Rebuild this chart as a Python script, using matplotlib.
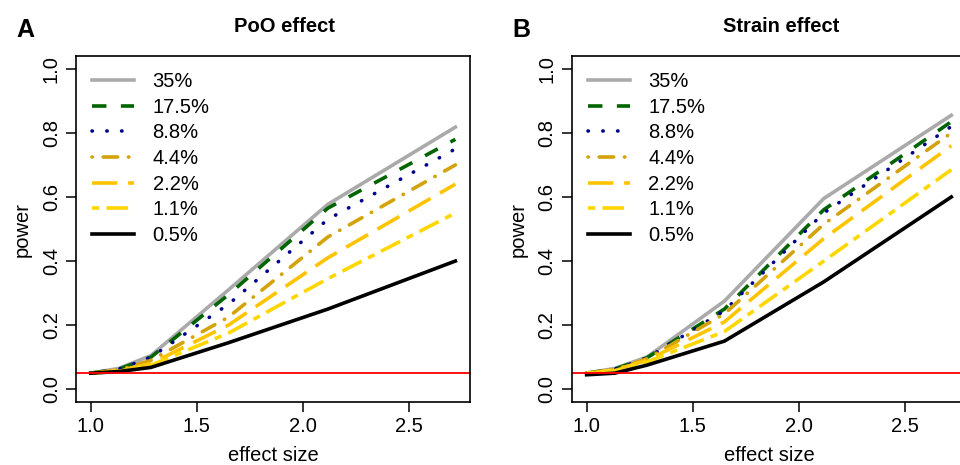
import numpy as np
import matplotlib
matplotlib.use("Agg")
import matplotlib.pyplot as plt

plt.rcParams["font.family"] = ["Liberation Sans", "DejaVu Sans"]

# effect sizes (exp of 0, 1/8, 1/4, 1/2, 3/4, 1)
effect = [1.0, 1.133, 1.284, 1.649, 2.117, 2.718]
labels = ["35%", "17.5%", "8.8%", "4.4%", "2.2%", "1.1%", "0.5%"]

poo_power = [
    [0.050, 0.065, 0.105, 0.310, 0.577, 0.818],
    [0.050, 0.063, 0.100, 0.295, 0.565, 0.780],
    [0.050, 0.062, 0.100, 0.265, 0.530, 0.750],
    [0.050, 0.060, 0.090, 0.225, 0.475, 0.700],
    [0.050, 0.058, 0.080, 0.200, 0.410, 0.640],
    [0.050, 0.056, 0.075, 0.175, 0.345, 0.550],
    [0.050, 0.055, 0.068, 0.145, 0.250, 0.400],
]
strain_power = [
    [0.050, 0.065, 0.100, 0.275, 0.595, 0.855],
    [0.050, 0.063, 0.098, 0.250, 0.560, 0.835],
    [0.050, 0.062, 0.097, 0.245, 0.550, 0.820],
    [0.050, 0.061, 0.095, 0.235, 0.515, 0.800],
    [0.050, 0.060, 0.090, 0.210, 0.470, 0.760],
    [0.050, 0.058, 0.085, 0.180, 0.400, 0.685],
    [0.045, 0.050, 0.075, 0.150, 0.335, 0.600],
]
alpha = 0.05

colors = ["#AAAAAA", "#006400", "#00008B", "#D4A20A", "#FFC400", "#FFD700", "#000000"]
dotted = (0, (0.1, 4))
styles = ["-", (0, (4, 4)), dotted, (0, (0.1, 3, 4, 3)), (0, (7, 3)),
          (0, (2, 2, 6, 2)), "-"]

FS = 14.5
fig = plt.figure(figsize=(9.6, 4.65), dpi=100)
panels = [("A", "PoO effect", poo_power, 0.0792),
          ("B", "Strain effect", strain_power, 0.5958)]

for letter, title, power, left in panels:
    ax = fig.add_axes([left, 0.1355, 0.4104, 0.744])
    for vals, c, ls, lab in zip(power, colors, styles, labels):
        ax.plot(effect, vals, color=c, ls=ls, lw=2.6, label=lab,
                dash_capstyle="round" if ls in (dotted, styles[3]) else "butt")
    ax.axhline(alpha, color="red", lw=1.3)
    ax.set_xlim(0.931, 2.787)
    ax.set_ylim(-0.04, 1.04)
    ax.set_xticks([1.0, 1.5, 2.0, 2.5])
    ax.set_yticks([0.0, 0.2, 0.4, 0.6, 0.8, 1.0])
    ax.set_xticklabels(["1.0", "1.5", "2.0", "2.5"])
    ax.set_yticklabels(["0.0", "0.2", "0.4", "0.6", "0.8", "1.0"],
                       rotation=90, va="center")
    ax.tick_params(direction="out", length=7, width=1.1, labelsize=FS, pad=4)
    for s in ax.spines.values():
        s.set_linewidth(1.2)
    ax.set_xlabel("effect size", fontsize=FS, labelpad=7)
    ax.set_ylabel("power", fontsize=FS, labelpad=7)
    ax.set_title(title, fontsize=FS, fontweight="bold", x=0.53, pad=17)
    ax.legend(loc="upper left", frameon=False, fontsize=FS, handlelength=2.1,
              labelspacing=0.33, borderaxespad=0.5, borderpad=0.3,
              handletextpad=0.9)
    fig.text(left - 0.062, 0.935, letter, fontsize=18, fontweight="bold",
             ha="left", va="center")

fig.savefig("out.png", dpi=100)
